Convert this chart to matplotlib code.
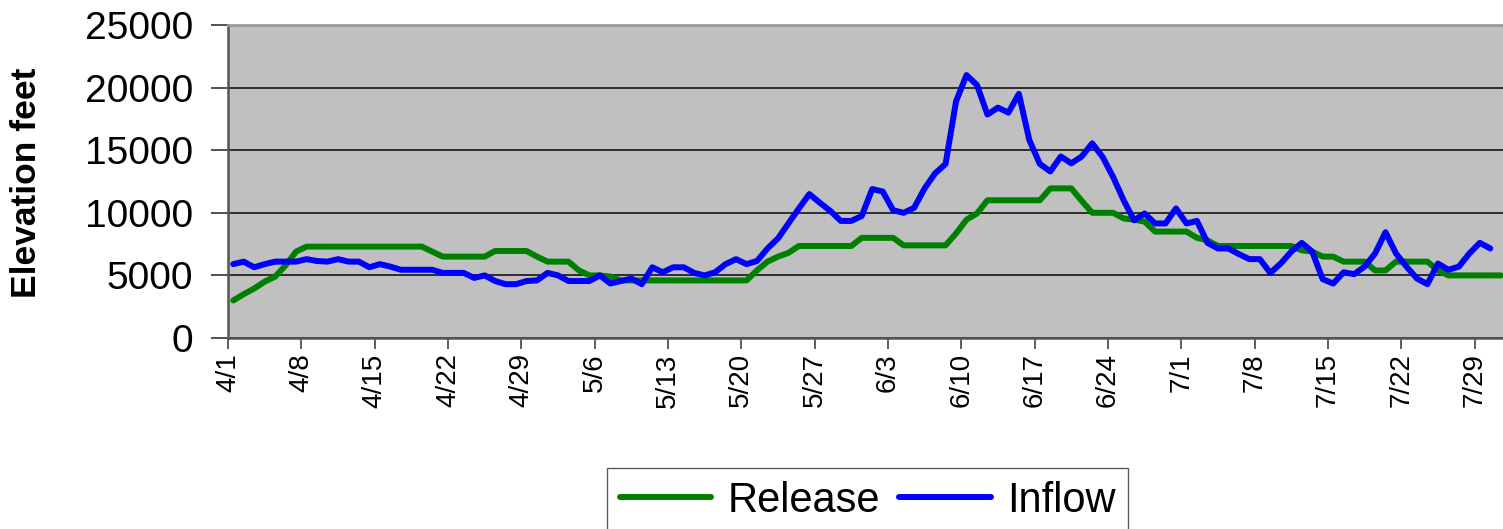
import matplotlib
matplotlib.use("Agg")
import matplotlib.pyplot as plt
import numpy as np

plt.rcParams['font.family'] = ['Liberation Sans', 'DejaVu Sans']

# Daily values, 4/1 .. 7/31 (Release) and 4/1 .. 7/30 (Inflow)
release = [3000, 3500, 3950, 4500, 4900, 5800, 6900,
           7300, 7300, 7300, 7300, 7300, 7300, 7300, 7300, 7300, 7300, 7300, 7300,
           6900,
           6500, 6500, 6500, 6500, 6500,
           6950, 6950, 6950, 6950,
           6500, 6100, 6100, 6100, 5400, 5000, 5000, 4900,
           4600, 4600, 4600, 4600, 4600, 4600, 4600, 4600, 4600, 4600, 4600, 4600, 4600,
           5400, 6100, 6500, 6800,
           7350, 7350, 7350, 7350, 7350, 7350,
           8000, 8000, 8000, 8000,
           7400, 7400, 7400, 7400, 7400,
           8350, 9450, 9950,
           11000, 11000, 11000, 11000, 11000, 11000,
           11950, 11950, 11950,
           10950,
           10000, 10000, 10000,
           9550, 9450, 9300,
           8500, 8500, 8500, 8500,
           8000, 7800,
           7350, 7350, 7350, 7350, 7350, 7350, 7350, 7350,
           7000, 6900,
           6500, 6500,
           6100, 6100, 6100,
           5400, 5400,
           6100, 6100, 6100, 6100,
           5400,
           5000, 5000, 5000, 5000, 5000, 5000]

inflow = [5900, 6100, 5650, 5900, 6100, 6100, 6100, 6300, 6150, 6100,
          6300, 6100, 6100, 5650, 5900, 5700, 5450, 5450, 5450, 5450,
          5200, 5200, 5200, 4800, 5000, 4550, 4300, 4300, 4550, 4600,
          5200, 5000, 4550, 4550, 4550, 5000, 4350, 4550, 4750, 4300,
          5650, 5250, 5650, 5650, 5200, 5000, 5250, 5900, 6300, 5900,
          6150, 7150, 7950, 9150, 10350, 11500, 10800, 10150, 9350, 9350,
          9750, 11900, 11700, 10200, 10000, 10400, 11950, 13150, 13900, 18900,
          21000, 20200, 17850, 18400, 18000, 19500, 15800, 13900, 13300, 14500,
          13950, 14500, 15550, 14450, 12850, 11000, 9400, 9950, 9150, 9150,
          10350, 9150, 9350, 7600, 7150, 7150, 6700, 6300, 6300, 5200,
          5950, 6900, 7600, 6900, 4700, 4350, 5250, 5100, 5700, 6750,
          8450, 6750, 5700, 4750, 4300, 5950, 5450, 5700, 6750, 7600,
          7150]

tick_labels = ['4/1', '4/8', '4/15', '4/22', '4/29', '5/6', '5/13', '5/20',
               '5/27', '6/3', '6/10', '6/17', '6/24', '7/1', '7/8', '7/15',
               '7/22', '7/29']
y_ticks = [0, 5000, 10000, 15000, 20000, 25000]

W, H = 1503, 529
fig = plt.figure(figsize=(W / 100, H / 100), dpi=100)
left, right, top, bottom = 228, 1506, 25, 338
ax = fig.add_axes([left / W, 1 - bottom / H, (right - left) / W, (bottom - top) / H])
ax.set_facecolor('#C0C0C0')

x_rel = np.arange(len(release)) + 0.5
x_inf = np.arange(len(inflow)) + 0.5
l1, = ax.plot(x_rel, release, color='#008000', lw=4.3, solid_joinstyle='round',
              solid_capstyle='round', label='Release', zorder=3)
l2, = ax.plot(x_inf, inflow, color='#0000FF', lw=4.3, solid_joinstyle='round',
              solid_capstyle='round', label='Inflow', zorder=4)

ax.set_xlim(0, 122)
ax.set_ylim(0, 25000)
ax.set_yticks(y_ticks)
ax.set_yticklabels([str(v) for v in y_ticks], fontsize=28)
ax.set_xticks(np.arange(len(tick_labels)) * 7)
ax.set_xticklabels(tick_labels, rotation=90, fontsize=20)
ax.tick_params(axis='y', length=12, width=1.2, color='#333333', pad=13, direction='out')
ax.tick_params(axis='x', length=8, width=1.2, color='#444444', pad=3, direction='out')
ax.yaxis.grid(True, color='#222222', lw=1.3)
ax.set_axisbelow(True)
for s in ['left', 'bottom']:
    ax.spines[s].set_color('#555555')
    ax.spines[s].set_linewidth(1.8)
ax.spines['top'].set_color('#999999')
ax.spines['top'].set_linewidth(2)
ax.spines['right'].set_visible(False)

fig.text(27 / W, 1 - 183 / H, 'Elevation feet', rotation=90, fontsize=25.5,
         fontweight='bold', ha='center', va='center')

leg = fig.legend(handles=[l1, l2], loc='upper left',
                 bbox_to_anchor=(607 / W, 1 - 468 / H), ncol=2, fontsize=30,
                 frameon=True, fancybox=False, edgecolor='#333333',
                 handlelength=2.2, handletextpad=0.4, columnspacing=0.45,
                 borderpad=0.3, borderaxespad=0)
leg.get_frame().set_linewidth(1.0)

fig.savefig('out.png', dpi=100)
